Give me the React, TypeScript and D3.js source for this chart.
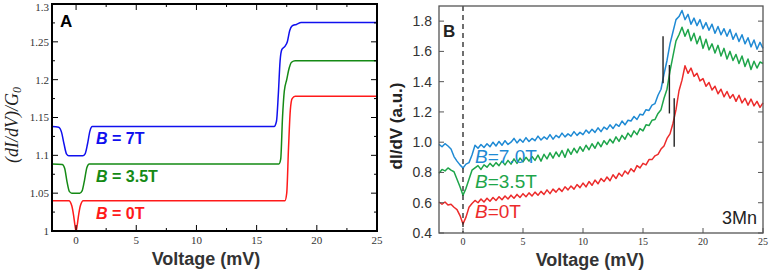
import { useEffect, useRef } from 'react';
import * as d3 from 'd3';

// panel A: calculated (dI/dV)/G0, [voltage, value]
const calc7T: [number, number][] = [
  [-2, 1.138], [-1.45, 1.137], [-1.2, 1.13], [-1.0, 1.115], [-0.8, 1.102], [-0.6, 1.0995],
  [0.55, 1.0995], [0.75, 1.102], [0.95, 1.115], [1.15, 1.132], [1.35, 1.138],
  [16.45, 1.138], [16.65, 1.145], [16.8, 1.18], [16.95, 1.225], [17.1, 1.24], [17.35, 1.244],
  [17.55, 1.25], [17.75, 1.265], [17.95, 1.271], [18.3, 1.273], [18.7, 1.2755], [25, 1.2755],
];
const calc35T: [number, number][] = [
  [-2, 1.0886], [-1.15, 1.088], [-0.95, 1.083], [-0.75, 1.065], [-0.55, 1.052], [-0.35, 1.05],
  [0.3, 1.05], [0.5, 1.053], [0.7, 1.067], [0.9, 1.084], [1.1, 1.0886],
  [16.85, 1.0886], [17.0, 1.095], [17.15, 1.15], [17.3, 1.185], [17.5, 1.2], [17.7, 1.215],
  [17.9, 1.223], [18.2, 1.225], [25, 1.225],
];
const calc0T: [number, number][] = [
  [-2, 1.04], [-0.6, 1.04], [-0.35, 1.033], [-0.2, 1.02], [-0.08, 1.006], [0, 1.0],
  [0.08, 1.006], [0.2, 1.02], [0.35, 1.033], [0.6, 1.04],
  [17.35, 1.04], [17.5, 1.05], [17.65, 1.11], [17.8, 1.16], [17.95, 1.175], [18.2, 1.178], [25, 1.178],
];

// panel B: measured dI/dV, sampled every 0.25 mV from -2 to 25 (one row per mV)
const voltageB = d3.range(-2, 25.001, 0.25);
const meas7T = [
  0.985, 0.97, 0.99, 0.975, 0.955, 0.905, 0.875, 0.85,
  0.83, 0.855, 0.865, 0.915, 0.98, 0.96, 0.985, 0.965,
  0.99, 0.97, 1.0, 0.975, 1.005, 0.98, 1.01, 0.985,
  1.0, 1.025, 0.995, 1.02, 1.0, 1.03, 1.005, 1.025,
  1.01, 1.04, 1.015, 1.035, 1.02, 1.05, 1.02, 1.045,
  1.03, 1.06, 1.035, 1.055, 1.04, 1.07, 1.045, 1.065,
  1.05, 1.08, 1.06, 1.085, 1.065, 1.095, 1.07, 1.10,
  1.085, 1.115, 1.09, 1.12, 1.105, 1.14, 1.115, 1.145,
  1.14, 1.17, 1.15, 1.185, 1.18, 1.215, 1.21, 1.245,
  1.255, 1.31, 1.35, 1.45, 1.54, 1.65, 1.73, 1.81,
  1.83, 1.87, 1.81, 1.845, 1.78, 1.82, 1.77, 1.81,
  1.75, 1.79, 1.74, 1.78, 1.72, 1.765, 1.71, 1.75,
  1.70, 1.745, 1.68, 1.72, 1.665, 1.71, 1.65, 1.69,
  1.63, 1.675, 1.615, 1.66, 1.62,
];
const meas35T = [
  0.795, 0.82, 0.81, 0.83, 0.815, 0.805, 0.755, 0.705,
  0.65, 0.695, 0.755, 0.815, 0.83, 0.845, 0.82, 0.85,
  0.835, 0.86, 0.84, 0.865, 0.845, 0.875, 0.85, 0.88,
  0.855, 0.89, 0.86, 0.895, 0.87, 0.90, 0.875, 0.905,
  0.88, 0.915, 0.875, 0.92, 0.89, 0.93, 0.895, 0.935,
  0.905, 0.945, 0.90, 0.955, 0.92, 0.96, 0.93, 0.97,
  0.94, 0.98, 0.95, 0.99, 0.96, 1.0, 0.97, 1.01,
  0.985, 1.02, 0.995, 1.035, 1.005, 1.045, 1.02, 1.06,
  1.035, 1.075, 1.05, 1.09, 1.075, 1.115, 1.11, 1.145,
  1.15, 1.19, 1.215, 1.29, 1.35, 1.47, 1.57, 1.67,
  1.71, 1.76, 1.70, 1.745, 1.67, 1.72, 1.65, 1.70,
  1.62, 1.68, 1.61, 1.65, 1.59, 1.64, 1.57, 1.62,
  1.55, 1.60, 1.54, 1.58, 1.52, 1.57, 1.50, 1.55,
  1.48, 1.535, 1.49, 1.53, 1.52,
];
const meas0T = [
  0.605, 0.59, 0.605, 0.585, 0.59, 0.57, 0.555, 0.515,
  0.46, 0.505, 0.57, 0.595, 0.615, 0.60, 0.625, 0.605,
  0.63, 0.61, 0.635, 0.615, 0.64, 0.62, 0.645, 0.625,
  0.65, 0.63, 0.655, 0.635, 0.66, 0.64, 0.665, 0.645,
  0.67, 0.65, 0.675, 0.655, 0.685, 0.66, 0.69, 0.67,
  0.695, 0.675, 0.705, 0.685, 0.71, 0.69, 0.72, 0.70,
  0.73, 0.705, 0.74, 0.715, 0.75, 0.725, 0.76, 0.74,
  0.77, 0.745, 0.785, 0.76, 0.795, 0.775, 0.81, 0.79,
  0.825, 0.805, 0.845, 0.83, 0.86, 0.85, 0.885, 0.885,
  0.91, 0.92, 0.955, 0.975, 1.025, 1.055, 1.125, 1.215,
  1.34, 1.41, 1.505, 1.455, 1.49, 1.435, 1.455, 1.405,
  1.42, 1.37, 1.395, 1.345, 1.37, 1.32, 1.35, 1.30,
  1.335, 1.29, 1.315, 1.27, 1.31, 1.26, 1.29, 1.245,
  1.285, 1.24, 1.27, 1.23, 1.26,
];

// onset markers in B: [voltage, bottom, top]
const markers: [number, number, number][] = [
  [16.67, 1.39, 1.70],
  [17.2, 1.19, 1.51],
  [17.6, 0.97, 1.29],
];

const ticksAY = [1, 1.05, 1.1, 1.15, 1.2, 1.25, 1.3];
const ticksBY = [0.4, 0.6, 0.8, 1.0, 1.2, 1.4, 1.6, 1.8];
const ticksX = [0, 5, 10, 15, 20, 25];

const SANS = '"Liberation Sans", Arial, sans-serif';
const SERIF = '"Liberation Serif", "Times New Roman", serif';

export default function App() {
  const svgRef = useRef<SVGSVGElement>(null);

  useEffect(() => {
    const svg = d3.select(svgRef.current);
    svg.selectAll('*').remove();

    // ---------- panel A ----------
    const xA = d3.scaleLinear().domain([-2, 25]).range([52, 377]);
    const yA = d3.scaleLinear().domain([1, 1.3]).range([231, 4]);
    const gA = svg.append('g');

    const lineA = d3.line<[number, number]>()
      .x(d => xA(d[0])).y(d => yA(d[1]))
      .curve(d3.curveMonotoneX);

    const seriesA: [[number, number][], string][] = [
      [calc0T, '#ff1a1a'], [calc35T, '#158a15'], [calc7T, '#1010ee'],
    ];
    seriesA.forEach(([d, c]) => {
      gA.append('path').attr('d', lineA(d)).attr('fill', 'none')
        .attr('stroke', c).attr('stroke-width', 1.5);
    });

    // ticks on all four sides, major + minor
    const minorX = d3.range(-2.5, 25.01, 2.5).filter(v => v > -2);
    const minorY = d3.range(1, 1.301, 0.025);
    minorX.forEach(v => {
      const len = v % 5 === 0 ? 6 : 3;
      gA.append('line').attr('x1', xA(v)).attr('x2', xA(v)).attr('y1', 231).attr('y2', 231 - len).attr('stroke', '#000');
      gA.append('line').attr('x1', xA(v)).attr('x2', xA(v)).attr('y1', 4).attr('y2', 4 + len).attr('stroke', '#000');
    });
    minorY.forEach((v, i) => {
      const len = i % 2 === 0 ? 6 : 3;
      gA.append('line').attr('x1', 52).attr('x2', 52 + len).attr('y1', yA(v)).attr('y2', yA(v)).attr('stroke', '#000');
      gA.append('line').attr('x1', 377).attr('x2', 377 - len).attr('y1', yA(v)).attr('y2', yA(v)).attr('stroke', '#000');
    });

    gA.append('rect').attr('x', 52).attr('y', 4).attr('width', 325).attr('height', 227)
      .attr('fill', 'none').attr('stroke', '#000').attr('stroke-width', 2);

    gA.selectAll('.ty').data(ticksAY).enter().append('text')
      .attr('x', 49).attr('y', d => Math.max(yA(d), 7)).attr('dy', '0.35em')
      .attr('text-anchor', 'end').attr('font-family', SERIF).attr('font-size', 11).attr('fill', '#333')
      .text(d => String(d));
    gA.selectAll('.tx').data(ticksX).enter().append('text')
      .attr('x', d => xA(d)).attr('y', 244)
      .attr('text-anchor', 'middle').attr('font-family', SERIF).attr('font-size', 11).attr('fill', '#333')
      .text(d => String(d));

    gA.append('text').attr('x', 206).attr('y', 265).attr('text-anchor', 'middle')
      .attr('font-family', SANS).attr('font-weight', 'bold').attr('font-size', 18).attr('fill', '#333')
      .text('Voltage (mV)');

    const titleA = gA.append('text').attr('transform', 'translate(18,125) rotate(-90)')
      .attr('text-anchor', 'middle').attr('font-family', SERIF).attr('font-style', 'italic')
      .attr('font-size', 18).attr('fill', '#222');
    titleA.append('tspan').text('(dI/dV)/G');
    titleA.append('tspan').attr('font-size', 12).attr('dy', 3).text('0');

    gA.append('text').attr('x', 60).attr('y', 27).attr('font-family', SANS)
      .attr('font-weight', 'bold').attr('font-size', 17).text('A');

    const labelsA: [string, number, string][] = [
      ['7T', 144, '#1010ee'], ['3.5T', 182, '#158a15'], ['0T', 219, '#ff1a1a'],
    ];
    labelsA.forEach(([t, y, c]) => {
      const tx = gA.append('text').attr('x', 96).attr('y', y).attr('font-family', SANS)
        .attr('font-weight', 'bold').attr('font-size', 16).attr('fill', c);
      tx.append('tspan').attr('font-style', 'italic').text('B');
      tx.append('tspan').text(` = ${t}`);
    });

    // ---------- panel B ----------
    const xB = d3.scaleLinear().domain([-2, 25]).range([439, 763]);
    const yB = d3.scaleLinear().domain([0.4, 1.9]).range([233, 6]);
    const gB = svg.append('g');

    const lineB = d3.line<number>()
      .x((_, i) => xB(voltageB[i])).y(d => yB(d));

    const seriesB: [number[], string][] = [
      [meas0T, '#ec2b2b'], [meas35T, '#1ea54a'], [meas7T, '#1f8ad4'],
    ];
    seriesB.forEach(([d, c]) => {
      gB.append('path').attr('d', lineB(d)).attr('fill', 'none')
        .attr('stroke', c).attr('stroke-width', 1.5).attr('stroke-linejoin', 'round');
    });

    gB.append('line').attr('x1', xB(0)).attr('x2', xB(0)).attr('y1', 6).attr('y2', 233)
      .attr('stroke', '#222').attr('stroke-width', 1.3).attr('stroke-dasharray', '5,4');

    markers.forEach(([v, lo, hi]) => {
      gB.append('line').attr('x1', xB(v)).attr('x2', xB(v)).attr('y1', yB(lo)).attr('y2', yB(hi))
        .attr('stroke', '#222').attr('stroke-width', 1.4);
    });

    ticksBY.forEach(v => {
      gB.append('line').attr('x1', 439).attr('x2', 444).attr('y1', yB(v)).attr('y2', yB(v)).attr('stroke', '#555');
      gB.append('line').attr('x1', 763).attr('x2', 758).attr('y1', yB(v)).attr('y2', yB(v)).attr('stroke', '#555');
    });
    ticksX.forEach(v => {
      gB.append('line').attr('x1', xB(v)).attr('x2', xB(v)).attr('y1', 233).attr('y2', 228).attr('stroke', '#555');
    });

    gB.append('rect').attr('x', 439).attr('y', 6).attr('width', 324).attr('height', 227)
      .attr('fill', 'none').attr('stroke', '#555').attr('stroke-width', 1.3);

    gB.selectAll('.ty').data(ticksBY).enter().append('text')
      .attr('x', 432).attr('y', d => yB(d)).attr('dy', '0.35em')
      .attr('text-anchor', 'end').attr('font-family', SANS).attr('font-size', 14).attr('fill', '#333')
      .text(d => d.toFixed(1));
    gB.selectAll('.tx').data(ticksX).enter().append('text')
      .attr('x', d => xB(d)).attr('y', 245)
      .attr('text-anchor', 'middle').attr('font-family', SERIF).attr('font-size', 10).attr('fill', '#333')
      .text(d => String(d));

    gB.append('text').attr('x', 590).attr('y', 266).attr('text-anchor', 'middle')
      .attr('font-family', SANS).attr('font-weight', 'bold').attr('font-size', 18).attr('fill', '#333')
      .text('Voltage (mV)');
    gB.append('text').attr('transform', 'translate(402,126) rotate(-90)')
      .attr('text-anchor', 'middle').attr('font-family', SANS).attr('font-weight', 'bold')
      .attr('font-size', 17).attr('fill', '#222').text('dI/dV (a.u.)');

    gB.append('text').attr('x', 443).attr('y', 37).attr('font-family', SANS)
      .attr('font-weight', 'bold').attr('font-size', 17).attr('fill', '#222').text('B');
    gB.append('text').attr('x', 757).attr('y', 224).attr('text-anchor', 'end').attr('font-family', SANS)
      .attr('font-size', 18).attr('fill', '#222').text('3Mn');

    const labelsB: [string, number, string][] = [
      ['7.0T', 163, '#1f8ad4'], ['3.5T', 188, '#1ea54a'], ['0T', 218, '#ec2b2b'],
    ];
    labelsB.forEach(([t, y, c]) => {
      const tx = gB.append('text').attr('x', 475).attr('y', y).attr('font-family', SANS)
        .attr('font-size', 19).attr('fill', c);
      tx.append('tspan').attr('font-style', 'italic').text('B');
      tx.append('tspan').text(`=${t}`);
    });
  }, []);

  return (
    <svg ref={svgRef} width={779} height={273}
      style={{ position: 'absolute', left: 0, top: 0, background: '#fff' }} />
  );
}
